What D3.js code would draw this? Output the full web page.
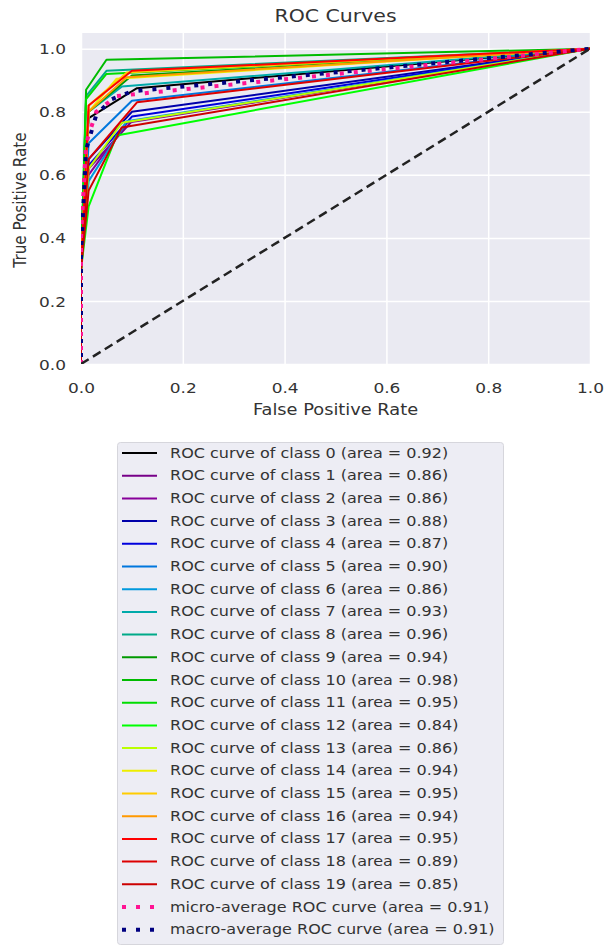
<!DOCTYPE html>
<html>
<head>
<meta charset="utf-8">
<script src="https://cdn.jsdelivr.net/npm/d3@7/dist/d3.min.js"></script>
<style>
  html, body { margin: 0; padding: 0; background: #ffffff; }
  svg { display: block; }
  text { font-family: "DejaVu Sans", sans-serif; fill: #333333; }
</style>
</head>
<body>
<svg id="chart" width="604" height="946"></svg>
<script>
// ---------------- data ----------------
const classNames = ["0","1","2","3","4","5","6","7","8","9","10","11","12","13","14","15","16","17","18","19"];
const classAuc   = [0.92,0.86,0.86,0.88,0.87,0.90,0.86,0.93,0.96,0.94,0.98,0.95,0.84,0.86,0.94,0.95,0.94,0.95,0.89,0.85];
const classColors = ["#000000","#770088","#880099","#0000aa","#0000dd","#0077dd","#0099dd","#00aaaa","#00aa88","#009900",
                     "#00bb00","#00dd00","#00ff00","#bbff00","#eeee00","#ffcc00","#ff9900","#ff0000","#dd0000","#cc0000"];
// ROC points per class (false positive rate / true positive rate)
const classFpr = [
  [0,0,0.015,0.11,1],[0,0,0.015,0.10,1],[0,0,0.015,0.09,1],[0,0,0.015,0.10,1],[0,0,0.015,0.10,1],
  [0,0,0.015,0.10,1],[0,0,0.015,0.09,1],[0,0,0.015,0.08,1],[0,0,0.010,0.05,1],[0,0,0.015,0.10,1],
  [0,0,0.010,0.05,1],[0,0,0.010,0.05,1],[0,0,0.015,0.07,1],[0,0,0.015,0.08,1],[0,0,0.015,0.07,1],
  [0,0,0.015,0.09,1],[0,0,0.015,0.09,1],[0,0,0.015,0.10,1],[0,0,0.015,0.11,1],[0,0,0.015,0.08,1]
];
const classTpr = [
  [0,0.40,0.78,0.875,1],[0,0.30,0.62,0.77,1],[0,0.30,0.60,0.765,1],[0,0.30,0.65,0.80,1],[0,0.30,0.63,0.785,1],
  [0,0.30,0.70,0.835,1],[0,0.30,0.58,0.77,1],[0,0.30,0.80,0.88,1],[0,0.30,0.85,0.93,1],[0,0.30,0.80,0.915,1],
  [0,0.30,0.87,0.965,1],[0,0.30,0.84,0.92,1],[0,0.30,0.50,0.725,1],[0,0.30,0.62,0.765,1],[0,0.30,0.80,0.905,1],
  [0,0.30,0.82,0.925,1],[0,0.30,0.80,0.91,1],[0,0.30,0.82,0.93,1],[0,0.30,0.65,0.83,1],[0,0.30,0.55,0.75,1]
];
const microFpr = [0,0,0.01,0.03,0.07,1];
const microTpr = [0,0.40,0.70,0.80,0.85,1];
const microAuc = 0.91;
const macroFpr = [0,0,0.01,0.03,0.06,0.10,1];
const macroTpr = [0,0.35,0.68,0.79,0.84,0.865,1];
const macroAuc = 0.91;
const xTicks = [0,0.2,0.4,0.6,0.8,1.0];
const yTicks = [0,0.2,0.4,0.6,0.8,1.0];
const titleText = "ROC Curves";
const xLabelText = "False Positive Rate";
const yLabelText = "True Positive Rate";

// ---------------- layout ----------------
const SX = 1.17;           // horizontal stretch of the reference picture
const svg = d3.select("#chart");
const pL = 81, pR = 590, pT = 33, pB = 364;
const x = d3.scaleLinear().domain([0,1]).range([pL,pR]);
const y = d3.scaleLinear().domain([0,1.05]).range([pB,pT]);

// plot background
svg.append("rect").attr("x",pL).attr("y",pT).attr("width",pR-pL).attr("height",pB-pT).attr("fill","#eaeaf2");

// grid
svg.append("g").attr("transform",`translate(0,${pB})`)
  .call(d3.axisBottom(x).tickValues(xTicks).tickSize(-(pB-pT)).tickFormat(""))
  .call(g=>g.select(".domain").remove())
  .call(g=>g.selectAll("line").attr("stroke","#ffffff").attr("stroke-width",1.5));
svg.append("g").attr("transform",`translate(${pL},0)`)
  .call(d3.axisLeft(y).tickValues(yTicks).tickSize(-(pR-pL)).tickFormat(""))
  .call(g=>g.select(".domain").remove())
  .call(g=>g.selectAll("line").attr("stroke","#ffffff").attr("stroke-width",1.5));

// tick labels
svg.append("g").attr("transform",`translate(0,${pB})`)
  .call(d3.axisBottom(x).tickValues(xTicks).tickSize(0).tickFormat(d3.format(".1f")))
  .call(g=>g.select(".domain").remove())
  .call(g=>g.selectAll("text").attr("y",24).attr("dy","0.35em").attr("transform",`scale(${SX},1)`)
        .style("font-size","14.5px").style("font-family","DejaVu Sans").attr("fill","#333"));
svg.append("g").attr("transform",`translate(${pL},0)`)
  .call(d3.axisLeft(y).tickValues(yTicks).tickSize(0).tickFormat(d3.format(".1f")))
  .call(g=>g.select(".domain").remove())
  .call(g=>g.selectAll("text").attr("x",-15/SX).attr("dy","0.35em").attr("transform",`scale(${SX},1)`)
        .style("font-size","14.5px").style("font-family","DejaVu Sans").attr("fill","#333"));

// clip
svg.append("clipPath").attr("id","plotclip").append("rect")
  .attr("x",pL).attr("y",pT).attr("width",pR-pL).attr("height",pB-pT);
const plot = svg.append("g").attr("clip-path","url(#plotclip)");
const line = d3.line().x(d=>x(d[0])).y(d=>y(d[1]));

classNames.forEach((c,i)=>{
  const pts = classFpr[i].map((f,j)=>[f,classTpr[i][j]]);
  plot.append("path").attr("d",line(pts)).attr("fill","none")
    .attr("stroke",classColors[i]).attr("stroke-width",2).attr("stroke-linejoin","round");
});
plot.append("path").attr("d",line(microFpr.map((f,j)=>[f,microTpr[j]]))).attr("fill","none")
  .attr("stroke","#ff1493").attr("stroke-width",4).attr("stroke-dasharray","4,10");
plot.append("path").attr("d",line(macroFpr.map((f,j)=>[f,macroTpr[j]]))).attr("fill","none")
  .attr("stroke","#000080").attr("stroke-width",4).attr("stroke-dasharray","4,10").attr("stroke-dashoffset",7);
plot.append("path").attr("d",line([[0,0],[1,1]])).attr("fill","none")
  .attr("stroke","#222").attr("stroke-width",2.5).attr("stroke-dasharray","9,5");

// title and axis labels
function stretchedText(px,py,str,size,anchor,rot){
  const g = svg.append("g").attr("transform",`translate(${px},${py}) scale(${SX},1)` + (rot?` rotate(${rot})`:""));
  return g.append("text").attr("text-anchor",anchor).attr("dominant-baseline","central")
    .style("font-size",size+"px").text(str);
}
stretchedText((pL+pR)/2,16,titleText,17.5,"middle");
stretchedText((pL+pR)/2,410,xLabelText,15.2,"middle");
stretchedText(20,200,yLabelText,15.2,"middle",-90);

// legend
const legX = 117, legY = 442, legW = 386, legH = 502, rowY0 = 453, rowStep = 22.7;
svg.append("rect").attr("x",legX+0.5).attr("y",legY+0.5).attr("width",legW).attr("height",legH)
  .attr("rx",3).attr("fill","#ededf4").attr("stroke","#d6d6dc").attr("stroke-width",1);
const legendItems = classNames.map((c,i)=>({label:`ROC curve of class ${c} (area = ${classAuc[i].toFixed(2)})`, color:classColors[i], w:2, dash:null}));
legendItems.push({label:`micro-average ROC curve (area = ${microAuc.toFixed(2)})`, color:"#ff1493", w:4, dash:"4,10"});
legendItems.push({label:`macro-average ROC curve (area = ${macroAuc.toFixed(2)})`, color:"#000080", w:4, dash:"4,10"});
legendItems.forEach((d,i)=>{
  const yy = rowY0 + i*rowStep;
  const l = svg.append("line").attr("x1",122).attr("x2",157).attr("y1",yy).attr("y2",yy)
    .attr("stroke",d.color).attr("stroke-width",d.w);
  if(d.dash) l.attr("stroke-dasharray",d.dash);
  const g = svg.append("g").attr("transform",`translate(170,${yy}) scale(${SX},1)`);
  g.append("text").attr("dominant-baseline","central").style("font-size","13.7px").text(d.label);
});
</script>
</body>
</html>
